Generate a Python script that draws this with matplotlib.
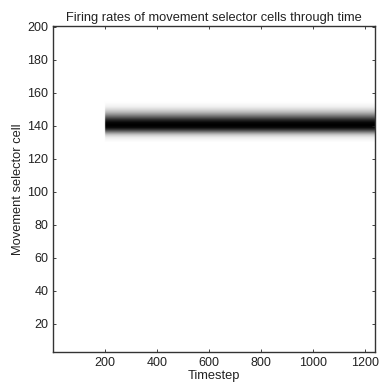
import numpy as np
import matplotlib
matplotlib.use('Agg')
import matplotlib.pyplot as plt

plt.rcParams['font.family'] = ['Liberation Sans', 'DejaVu Sans']

# Firing activity of the selector population
n_cells = 200
n_steps = 1240
onset_step = 200

# cells that fire after onset and their normalized firing rate
active_cells = [131, 132, 133, 134, 135, 136, 137, 138, 139, 140, 141, 142,
                143, 144, 145, 146, 147, 148, 149, 150, 151, 152, 153, 154]
active_rates = [0.02, 0.04, 0.08, 0.15, 0.27, 0.45, 0.65, 0.83, 0.95, 1.0, 1.0, 0.97,
                0.9, 0.8, 0.67, 0.54, 0.42, 0.31, 0.22, 0.15, 0.09, 0.05, 0.03, 0.01]

xticks = [200, 400, 600, 800, 1000, 1200]
yticks = [20, 40, 60, 80, 100, 120, 140, 160, 180, 200]

rates = np.zeros((n_cells, n_steps))
for cell, r in zip(active_cells, active_rates):
    rates[cell - 1, onset_step:] = r

fig = plt.figure(figsize=(3.79, 3.89), dpi=100)
ax = fig.add_axes([0.140, 0.095, 0.850, 0.838])

ax.imshow(rates, cmap='gray_r', vmin=0, vmax=1, origin='lower', aspect='auto',
          extent=[0.5, n_steps + 0.5, 0.5, n_cells + 0.5], interpolation='bilinear')

ax.set_xlim(0.5, n_steps)
ax.set_ylim(3, 200.5)
ax.set_xticks(xticks)
ax.set_yticks(yticks)
ax.tick_params(direction='in', length=2, width=0.6, labelsize=9,
               top=True, right=True, colors='#222222', labelcolor='#222222')
for s in ax.spines.values():
    s.set_linewidth(1.0)
    s.set_color('#333333')

ax.set_xlabel('Timestep', fontsize=9.3, color='#222222', labelpad=1)
ax.set_ylabel('Movement selector cell', fontsize=9.3, color='#222222', labelpad=2)
ax.set_title('Firing rates of movement selector cells through time', fontsize=9.3,
             color='#222222', pad=4)

fig.savefig('out.png', dpi=100)
